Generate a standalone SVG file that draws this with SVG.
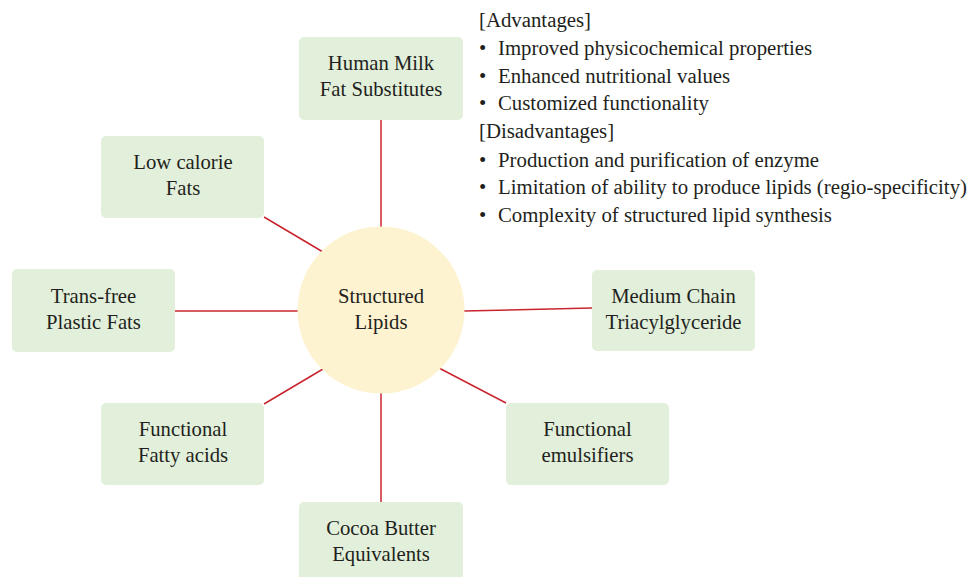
<svg xmlns="http://www.w3.org/2000/svg" width="972" height="577" viewBox="0 0 972 577">
<style>
.box{fill:#e2efda;}
.hub{fill:#fdf3d0;}
.lbl{font-family:"Liberation Serif","Times New Roman",serif;font-size:20.7px;fill:#231f20;text-anchor:middle;}
.txt{font-family:"Liberation Serif","Times New Roman",serif;font-size:20.8px;fill:#231f20;}
.conn line{stroke:#c9252f;stroke-width:1.5;}
</style>
<rect width="972" height="577" fill="#ffffff"/>
<g id="connectors" class="conn">
<line x1="381" y1="120" x2="381" y2="228"/>
<line x1="264" y1="217" x2="323" y2="252"/>
<line x1="175" y1="311" x2="298" y2="311"/>
<line x1="464" y1="311" x2="592" y2="308"/>
<line x1="264" y1="404" x2="323" y2="369"/>
<line x1="439" y1="368" x2="506" y2="403"/>
<line x1="381" y1="392" x2="381" y2="502"/>
</g>
<g id="hub">
<circle class="hub" cx="381" cy="310" r="83.5"/>
<text class="lbl" x="381" y="303">Structured</text>
<text class="lbl" x="381" y="329">Lipids</text>
</g>
<g id="human-milk">
<rect class="box" x="299" y="37" width="164" height="83" rx="5"/>
<text class="lbl" x="381" y="70">Human Milk</text>
<text class="lbl" x="381" y="96">Fat Substitutes</text>
</g>
<g id="low-calorie">
<rect class="box" x="101" y="136" width="163" height="82" rx="5"/>
<text class="lbl" x="183" y="169">Low calorie</text>
<text class="lbl" x="183" y="195">Fats</text>
</g>
<g id="trans-free">
<rect class="box" x="12" y="269" width="163" height="83" rx="5"/>
<text class="lbl" x="93.5" y="303">Trans-free</text>
<text class="lbl" x="93.5" y="329">Plastic Fats</text>
</g>
<g id="medium-chain">
<rect class="box" x="592" y="270" width="163" height="81" rx="5"/>
<text class="lbl" x="673.5" y="303">Medium Chain</text>
<text class="lbl" x="673.5" y="329">Triacylglyceride</text>
</g>
<g id="functional-fatty-acids">
<rect class="box" x="101" y="403" width="163" height="82" rx="5"/>
<text class="lbl" x="183" y="436">Functional</text>
<text class="lbl" x="183" y="462">Fatty acids</text>
</g>
<g id="functional-emulsifiers">
<rect class="box" x="506" y="403" width="163" height="82" rx="5"/>
<text class="lbl" x="587.5" y="436">Functional</text>
<text class="lbl" x="587.5" y="462">emulsifiers</text>
</g>
<g id="cocoa-butter">
<rect class="box" x="299" y="502" width="164" height="85" rx="5"/>
<text class="lbl" x="381" y="535">Cocoa Butter</text>
<text class="lbl" x="381" y="561">Equivalents</text>
</g>
<g id="notes" class="txt">
<text x="479" y="27">[Advantages]</text>
<text x="479" y="55">•</text><text x="498" y="55">Improved physicochemical properties</text>
<text x="479" y="83">•</text><text x="498" y="83">Enhanced nutritional values</text>
<text x="479" y="110">•</text><text x="498" y="110">Customized functionality</text>
<text x="479" y="138">[Disadvantages]</text>
<text x="479" y="167">•</text><text x="498" y="167">Production and purification of enzyme</text>
<text x="479" y="194">•</text><text x="498" y="194">Limitation of ability to produce lipids (regio-specificity)</text>
<text x="479" y="222">•</text><text x="498" y="222">Complexity of structured lipid synthesis</text>
</g>
</svg>
